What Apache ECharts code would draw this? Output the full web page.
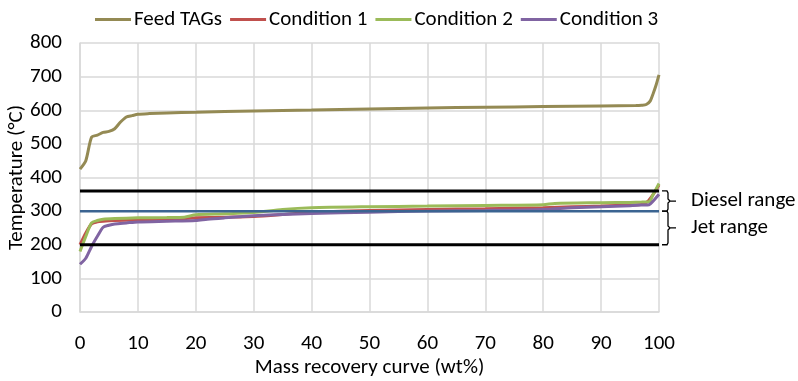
<!DOCTYPE html>
<html><head><meta charset="utf-8">
<script src="https://cdn.jsdelivr.net/npm/echarts@6/dist/echarts.min.js"></script>
<style>html,body{margin:0;padding:0;background:#fff}#c{width:798px;height:381px}</style>
</head><body><div id="c"></div>
<script>
var FONT = 'Carlito, Lato, "Open Sans", sans-serif';
var FS = 21;
var xTicks = [0,10,20,30,40,50,60,70,80,90,100];
var yTicks = [0,100,200,300,400,500,600,700,800];

var feedX = [0,1,2,3,4,5,6,7,8,9,10,12,15,20,30,40,50,60,70,80,90,96,97,97.8,98.5,99,99.5,100];
var feedY = [425,450,520,526,534,537,545,565,580,584,588,590,592,594,598,601,604,607,609,611,613,614,615,617,628,650,675,705];

var c1X = [0,1,2,3,4,6,10,15,18,20,25,30,35,40,50,60,70,80,85,90,95,97,98,99,100];
var c1Y = [200,235,262,268,270,272,274,276,278,280,282,284,290,297,302,305,307,310,313,315,318,320,328,350,378];

var c2X = [0,1,2,3,4,6,10,15,18,20,25,30,35,40,50,60,70,80,82,90,95,97,98.3,99,100];
var c2Y = [180,225,265,272,276,278,280,281,282,289,292,296,305,310,313,315,317,319,323,325,326,327,328,350,382];

var c3X = [0,1,2,3,4,5,6,8,10,15,20,22,25,30,35,40,50,60,70,80,85,90,95,97,98.3,99,100];
var c3Y = [142,160,195,225,252,258,262,265,268,270,272,276,280,286,290,293,297,300,302,305,310,313,316,318,319,330,350];

var rangeX = [0,100];
var dieselTop = [360,360];
var jetTop = [300,300];
var jetBottom = [200,200];

function zip(xs, ys){ return xs.map(function(x,i){ return [x, ys[i]]; }); }

var chart = echarts.init(document.getElementById('c'), null, {renderer:'canvas'});
var grid = {left:80, right:139, top:43, bottom:69, containLabel:false, outerBoundsMode:'none'};
chart.setOption({
  animation:false,
  textStyle:{fontFamily:FONT},
  grid:grid,
  legend:{
    top:4, left:90,
    itemWidth:36, itemHeight:3, itemGap:8,
    icon:'rect',
    textStyle:{fontFamily:FONT, fontSize:FS, color:'#000', padding:[0,0,0,-2]},
    data:['Feed TAGs','Condition 1','Condition 2','Condition 3']
  },
  xAxis:{
    type:'value', min:0, max:100, interval:10,
    name:'Mass recovery curve (wt%)', nameLocation:'middle', nameGap:45, nameMoveOverlap:false,
    nameTextStyle:{fontFamily:FONT, fontSize:FS, color:'#000'},
    axisLine:{show:true, lineStyle:{color:'#d9d9d9', width:1.5}},
    axisTick:{show:false},
    axisLabel:{fontFamily:FONT, fontSize:FS, color:'#000', margin:21},
    splitLine:{show:true, lineStyle:{color:'#d9d9d9', width:1.5}}
  },
  yAxis:{
    type:'value', min:0, max:800, interval:100,
    name:'Temperature (°C)', nameLocation:'middle', nameGap:53, nameRotate:90, nameMoveOverlap:false,
    nameTextStyle:{fontFamily:FONT, fontSize:FS, color:'#000'},
    axisLine:{show:true, lineStyle:{color:'#d9d9d9', width:1.5}},
    axisTick:{show:false},
    axisLabel:{fontFamily:FONT, fontSize:FS, color:'#000', margin:18},
    splitLine:{show:true, lineStyle:{color:'#d9d9d9', width:1.5}}
  },
  series:[
    {name:'Feed TAGs', type:'line', data:zip(feedX,feedY), symbol:'none', smooth:0.25, z:3,
     lineStyle:{color:'#948a54', width:3}, itemStyle:{color:'#948a54'}},
    {name:'Condition 1', type:'line', data:zip(c1X,c1Y), symbol:'none', smooth:0.25, z:3,
     lineStyle:{color:'#c0504d', width:3}, itemStyle:{color:'#c0504d'}},
    {name:'Condition 2', type:'line', data:zip(c2X,c2Y), symbol:'none', smooth:0.25, z:3,
     lineStyle:{color:'#9bbb59', width:3}, itemStyle:{color:'#9bbb59'}},
    {name:'Condition 3', type:'line', data:zip(c3X,c3Y), symbol:'none', smooth:0.25, z:3,
     lineStyle:{color:'#8064a2', width:3}, itemStyle:{color:'#8064a2'}},
    {name:'diesel', type:'line', data:zip(rangeX,dieselTop), symbol:'none', z:4,
     lineStyle:{color:'#000', width:3}},
    {name:'jet', type:'line', data:zip(rangeX,jetTop), symbol:'none', z:4,
     lineStyle:{color:'#3b6491', width:2.5}},
    {name:'bottom', type:'line', data:zip(rangeX,jetBottom), symbol:'none', z:4,
     lineStyle:{color:'#000', width:3}}
  ]
});

function px(x,y){ return chart.convertToPixel({gridIndex:0},[x,y]); }
var pTop = px(100,dieselTop[0]), pMid = px(100,jetTop[0]), pBot = px(100,jetBottom[0]);
function brace(y1,y2){
  var x0 = pTop[0]+3, x1 = pTop[0]+9, ym=(y1+y2)/2;
  return {type:'polyline', shape:{points:[[x0,y1],[x1-1,y1],[x1,y1+2],[x1,ym-2],[x1+2,ym],[x1+8,ym],[x1+2,ym],[x1,ym+2],[x1,y2-2],[x1-1,y2],[x0,y2]]},
          style:{stroke:'#000', lineWidth:1.3, fill:null}, z:10};
}
chart.setOption({graphic:[
  brace(pTop[1], pMid[1]),
  brace(pMid[1], pBot[1]),
  {type:'text', x:pTop[0]+32, y:(pTop[1]+pMid[1])/2, style:{text:'Diesel range', fontFamily:FONT, fontSize:FS, fill:'#000', textVerticalAlign:'middle', verticalAlign:'middle'}, z:10},
  {type:'text', x:pTop[0]+32, y:(pMid[1]+pBot[1])/2, style:{text:'Jet range', fontFamily:FONT, fontSize:FS, fill:'#000', textVerticalAlign:'middle', verticalAlign:'middle'}, z:10}
]});
</script></body></html>
